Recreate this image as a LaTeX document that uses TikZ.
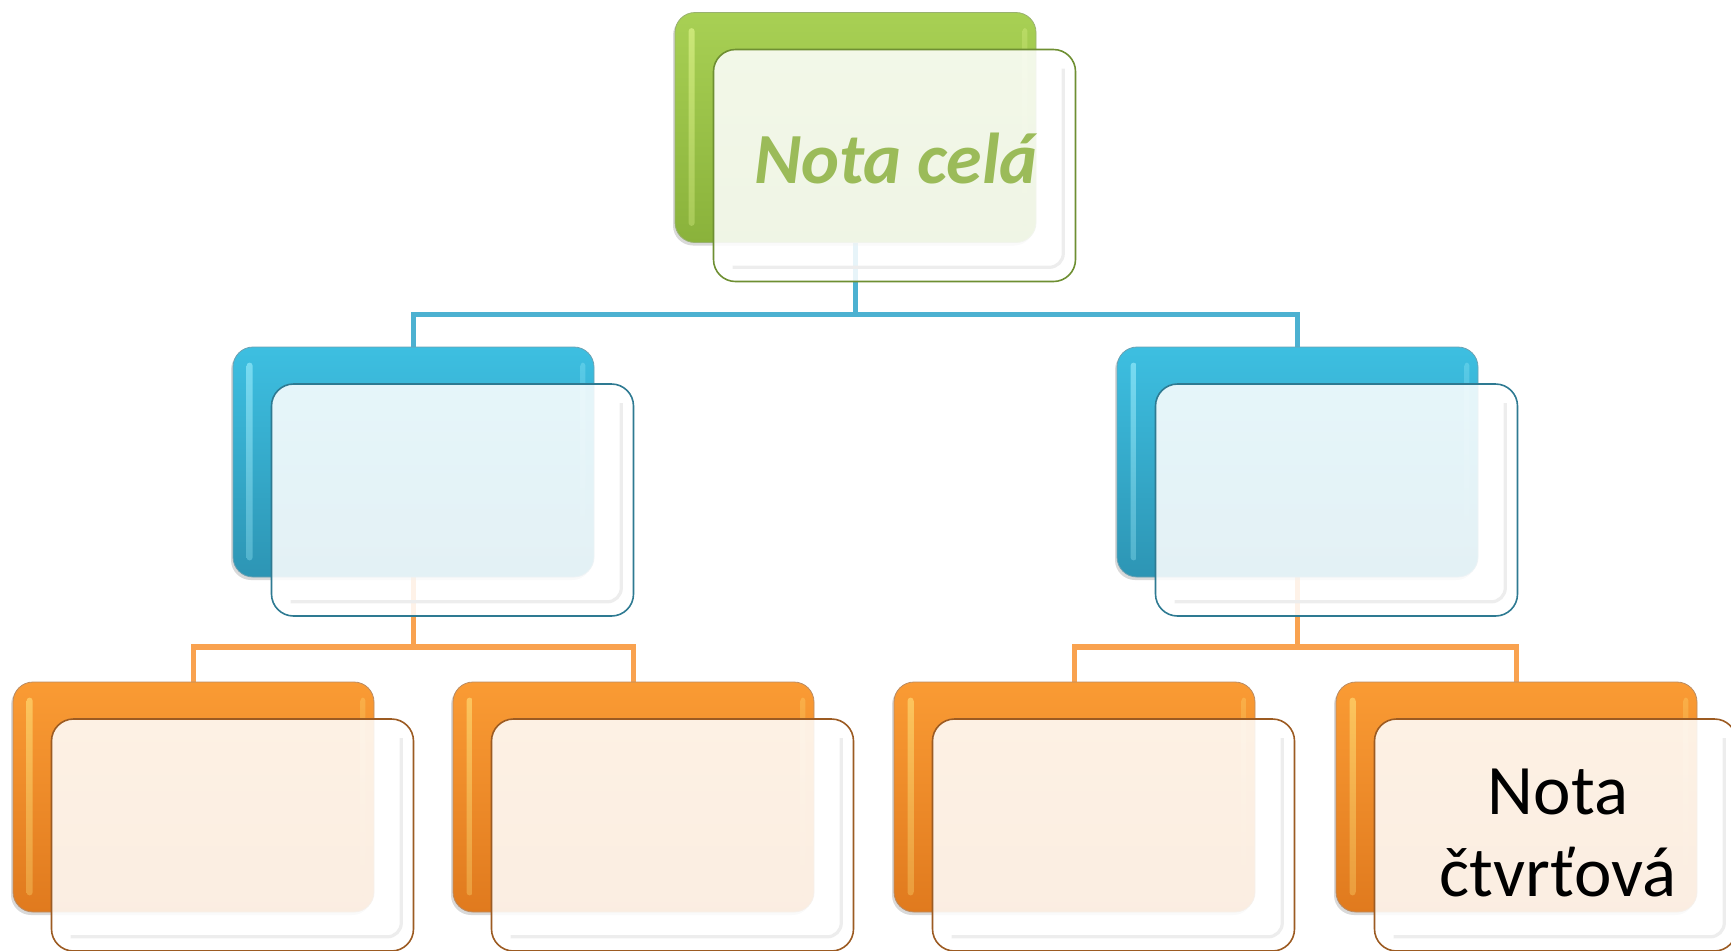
\documentclass[tikz,border=0pt]{standalone}
\usepackage{fontspec}
\setmainfont{Carlito}
\usetikzlibrary{shadows}
\pgfdeclarelayer{background}
\pgfsetlayers{background,main}
\definecolor{gTop}{HTML}{A8D054}
\definecolor{gBot}{HTML}{8AB23B}
\definecolor{gHL}{HTML}{E4F890}
\definecolor{gEdge}{HTML}{6E8F32}
\definecolor{bTop}{HTML}{3DBFE1}
\definecolor{bBot}{HTML}{2D95B4}
\definecolor{bHL}{HTML}{A0F0FF}
\definecolor{bEdge}{HTML}{2E7A92}
\definecolor{oTop}{HTML}{FA9B34}
\definecolor{oBot}{HTML}{E07A1E}
\definecolor{oHL}{HTML}{FFE27A}
\definecolor{oEdge}{HTML}{9C5B22}
\definecolor{bLine}{HTML}{4CB1D1}
\definecolor{oLine}{HTML}{F9A24F}
\definecolor{titleGreen}{HTML}{9BBB59}
\tikzset{
  backbox/.style={rectangle, rounded corners=10pt, minimum width=180.5pt, minimum height=115pt,
    inner sep=0pt, draw=#1Edge!70, line width=0.4pt, top color=#1Top, bottom color=#1Bot,
    drop shadow={shadow xshift=-1pt, shadow yshift=-1.5pt, opacity=0.3}},
  frontbox/.style={rectangle, rounded corners=11pt, minimum width=181pt, minimum height=116pt,
    inner sep=0pt, draw=#1Edge, line width=0.8pt, fill=white, fill opacity=0.87, text opacity=1},
  conn/.style={line width=2.6pt, draw=#1Line},
  hlstrip/.style={top color=#1HL, bottom color=#1HL!55!#1Bot, rounded corners=1.5pt, fill opacity=0.6},
  hlstripr/.style={top color=#1HL, bottom color=#1Bot, rounded corners=1.5pt, fill opacity=0.3},
  gloss/.style={draw=black!7, line width=1.6pt, rounded corners=7pt},
  titletext/.style={font=\fontsize{36pt}{42pt}\selectfont\bfseries\itshape, text=titleGreen, inner sep=0pt},
  leaftext/.style={font=\fontsize{35.5pt}{41pt}\selectfont, text=black, inner sep=0pt, align=center},
}
\newcommand{\strips}[2]{%
  \path[hlstrip=#2] ([xshift=7pt,yshift=-8pt]#1.north west) rectangle ([xshift=10pt,yshift=8.5pt]#1.south west);
  \path[hlstripr=#2] ([xshift=-7pt,yshift=-8pt]#1.north east) rectangle ([xshift=-4.5pt,yshift=8.5pt]#1.south east);
}
\newcommand{\glossline}[1]{%
  \draw[gloss] ([xshift=-6.5pt,yshift=-10pt]#1.north east) -- ([xshift=-6.5pt,yshift=7.5pt]#1.south east) -- ([xshift=10pt,yshift=7.5pt]#1.south west);
}
\begin{document}
\begin{tikzpicture}[x=0.5pt,y=-0.5pt]
\useasboundingbox (0,0) rectangle (1731,950);
\clip (0,0) rectangle (1731,950);

% back boxes
\node[backbox=g] (g)  at (855.5,127.5) {};
\node[backbox=b] (b1) at (413.5,462) {};
\node[backbox=b] (b2) at (1297.5,462) {};
\node[backbox=o] (o1) at (193.5,797) {};
\node[backbox=o] (o2) at (633.5,797) {};
\node[backbox=o] (o3) at (1074.5,797) {};
\node[backbox=o] (o4) at (1516.5,797) {};

\strips{g}{g}
\strips{b1}{b}
\strips{b2}{b}
\strips{o1}{o}
\strips{o2}{o}
\strips{o3}{o}
\strips{o4}{o}

% connectors
\coordinate (j0) at (855.5,314.5);
\coordinate (j1) at (413.5,647);
\coordinate (j2) at (1297.5,647);
\begin{pgfonlayer}{background}
\draw[conn=b] (g.south) -- (j0) -| (b1.north);
\draw[conn=b] (j0) -| (b2.north);
\draw[conn=o] (b1.south) -- (j1) -| (o1.north);
\draw[conn=o] (j1) -| (o2.north);
\draw[conn=o] (b2.south) -- (j2) -| (o3.north);
\draw[conn=o] (j2) -| (o4.north);
\end{pgfonlayer}

% front boxes
\node[frontbox=g] (gf)  at (894.5,165.5) {};
\node[frontbox=b] (b1f) at (452.5,500) {};
\node[frontbox=b] (b2f) at (1336.5,500) {};
\node[frontbox=o] (o1f) at (232.5,835) {};
\node[frontbox=o] (o2f) at (672.5,835) {};
\node[frontbox=o] (o3f) at (1113.5,835) {};
\node[frontbox=o] (o4f) at (1555.5,835) {};

\glossline{gf}
\glossline{b1f}
\glossline{b2f}
\glossline{o1f}
\glossline{o2f}
\glossline{o3f}
\glossline{o4f}

% texts
\node[titletext, anchor=base] (t1) at (896,183) {Nota celá};
\node[leaftext, anchor=north] (t2) at (1558,769) {Nota\\čtvrťová};
\end{tikzpicture}
\end{document}
